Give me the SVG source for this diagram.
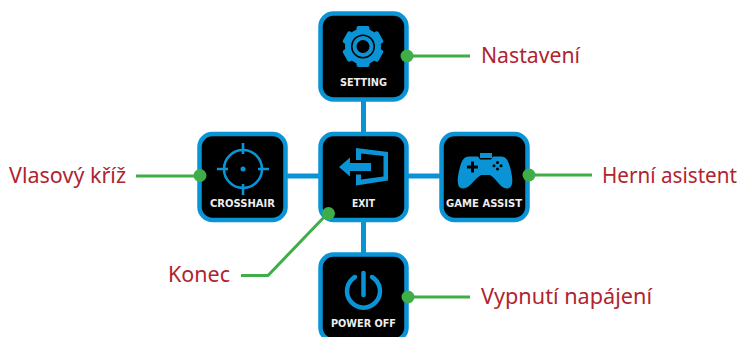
<svg xmlns="http://www.w3.org/2000/svg" width="741" height="337" viewBox="0 0 741 337">
<style>
.box{fill:#000;stroke:#0a94d6;stroke-width:4.5}
.lnk{stroke:#0a94d6;stroke-width:5;fill:none}
.lead{stroke:#3fae49;stroke-width:3;fill:none}
.dot{fill:#3fae49}
.ic{fill:#0a94d6}
.ils{fill:none;stroke:#0a94d6}
.cap{font-family:"DejaVu Sans",sans-serif;font-weight:700;font-size:10px;fill:#eee;text-anchor:middle}
.lbl{font-family:"Noto Sans","Open Sans",sans-serif;font-size:21.500px;fill:#b0242f}
</style>
<rect width="741" height="337" fill="#fff"/>
<g id="links">
<path class="lnk" d="M363.500 100V134M363.500 220V254M286 176H320M407 176H441"/>
</g>
<g id="setting">
<rect class="box" x="320.500" y="13.500" width="86" height="86" rx="13"/>
<g transform="translate(363 46.500)">
<g class="ic"><circle r="18"/><rect x="-6.500" y="-20.500" width="13" height="41" rx="2"/><rect x="-6.500" y="-20.500" width="13" height="41" rx="2" transform="rotate(60)"/><rect x="-6.500" y="-20.500" width="13" height="41" rx="2" transform="rotate(120)"/></g>
<circle r="12" fill="#000"/><circle r="10.500" class="ic"/><circle r="6.500" fill="#000"/>
</g>
<text class="cap" x="363.500" y="86" textLength="47" lengthAdjust="spacingAndGlyphs">SETTING</text>
</g>
<g id="crosshair">
<rect class="box" x="199.500" y="134" width="86" height="86" rx="13"/>
<g transform="translate(243 169)" class="ils" stroke-width="2.600">
<circle r="19"/><path d="M0-26V-15M0 15V26M-26 0H-15M15 0H26"/><circle r="2.500" class="ic" stroke="none"/>
</g>
<text class="cap" x="242.500" y="207" textLength="65" lengthAdjust="spacingAndGlyphs">CROSSHAIR</text>
</g>
<g id="exit">
<rect class="box" x="320.500" y="134" width="86" height="86" rx="13"/>
<path class="ic" d="M339 167L350 157.500V163H371V171H350V176.500ZM356 148L388 152V180.500L356 185.500V174.500H361V179.500L383.500 176.500V156L361 153.500V160H356Z"/>
<text class="cap" x="363.500" y="207" textLength="23" lengthAdjust="spacingAndGlyphs">EXIT</text>
</g>
<g id="game-assist">
<rect class="box" x="441.500" y="134" width="86" height="86" rx="13"/>
<path class="ic" d="M469 156.500H478L480 159.500H491L493 156.500H501C506 156.500 508 160 510 167C513 178 514 188.500 507 188.500C500 188.500 497 179 490 175H481C474 179 470 188.500 463 188.500C456 188.500 457 178 460 167C462 160 464 156.500 469 156.500Z"/>
<rect class="ic" x="480" y="153" width="12" height="5"/>
<path d="M471 161.500H474V165.500H478V168.500H474V172.500H471V168.500H467V165.500H471Z" fill="#000"/>
<g fill="#000"><circle cx="497.500" cy="162.500" r="1.500"/><circle cx="497.500" cy="169" r="1.500"/><circle cx="494" cy="165.800" r="1.500"/><circle cx="501" cy="165.800" r="1.500"/></g>
<text class="cap" x="484" y="207" textLength="76" lengthAdjust="spacingAndGlyphs">GAME ASSIST</text>
</g>
<g id="power-off">
<rect class="box" x="320.500" y="254.500" width="86" height="86" rx="13"/>
<path class="ils" stroke-width="4.500" stroke-linecap="round" d="M355 277A16.500 16.500 0 1 0 372 277"/>
<path class="ils" stroke-width="4.500" stroke-linecap="round" d="M363.500 273V295"/>
<text class="cap" x="363.500" y="327" textLength="65" lengthAdjust="spacingAndGlyphs">POWER OFF</text>
</g>
<g id="leaders">
<path class="lead" d="M407 56H470"/><circle class="dot" cx="407" cy="56" r="6.500"/>
<path class="lead" d="M136 176H200"/><circle class="dot" cx="200" cy="175.500" r="6.500"/>
<path class="lead" d="M529 175H592"/><circle class="dot" cx="529" cy="175" r="6.500"/>
<path class="lead" d="M241 275.500H268L328 213"/><circle class="dot" cx="328.500" cy="213.500" r="6.500"/>
<path class="lead" d="M408 297H470"/><circle class="dot" cx="408" cy="297" r="6.500"/>
</g>
<g id="labels">
<text class="lbl" x="481" y="63" textLength="99" lengthAdjust="spacingAndGlyphs">Nastavení</text>
<text class="lbl" x="9" y="183" textLength="117" lengthAdjust="spacingAndGlyphs">Vlasový kříž</text>
<text class="lbl" x="602" y="183" textLength="135" lengthAdjust="spacingAndGlyphs">Herní asistent</text>
<text class="lbl" x="168" y="282" textLength="62" lengthAdjust="spacingAndGlyphs">Konec</text>
<text class="lbl" x="481" y="304" textLength="171" lengthAdjust="spacingAndGlyphs">Vypnutí napájení</text>
</g>
</svg>
